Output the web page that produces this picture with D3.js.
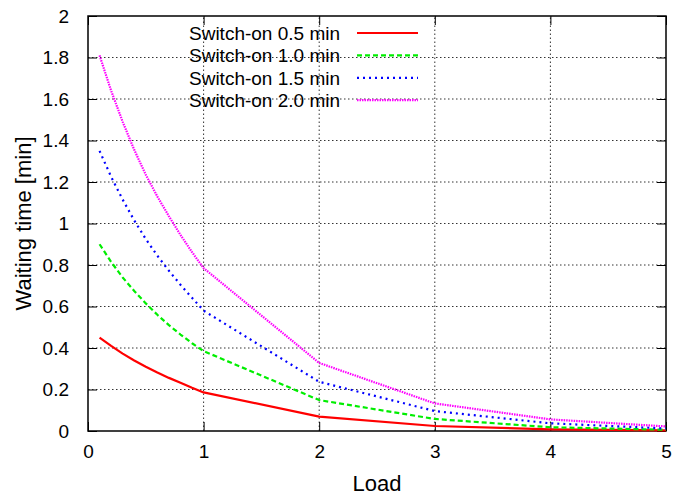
<!DOCTYPE html>
<html>
<head>
<meta charset="utf-8">
<script src="https://cdn.jsdelivr.net/npm/d3@7"></script>
<style>
  html, body { margin: 0; padding: 0; background: #fff; }
  svg { display: block; font-family: "Liberation Sans", Arial, Helvetica, sans-serif; }
</style>
</head>
<body>
<svg id="chart" width="674" height="495"></svg>
<script>
// Load values (x) at which waiting times were computed
const loads = [0.1, 0.2, 0.3, 0.4, 0.5, 0.6, 0.7, 0.8, 0.9, 1.0, 2, 3, 4, 5];

// Mean waiting time [min] for each switch-on duration
const wait05 = [0.45, 0.41, 0.373, 0.34, 0.31, 0.282, 0.256, 0.232, 0.208, 0.186, 0.069, 0.024, 0.008, 0.003];
const wait10 = [0.90, 0.815, 0.74, 0.675, 0.615, 0.56, 0.51, 0.465, 0.423, 0.385, 0.149, 0.058, 0.018, 0.006];
const wait15 = [1.35, 1.225, 1.115, 1.015, 0.925, 0.845, 0.772, 0.705, 0.642, 0.58, 0.237, 0.096, 0.037, 0.012];
const wait20 = [1.81, 1.64, 1.49, 1.355, 1.235, 1.13, 1.035, 0.945, 0.862, 0.785, 0.328, 0.133, 0.056, 0.022];

const seriesNames = ["Switch-on 0.5 min", "Switch-on 1.0 min", "Switch-on 1.5 min", "Switch-on 2.0 min"];

const xTicks = [0, 1, 2, 3, 4, 5];
const yTicks = [0, 0.2, 0.4, 0.6, 0.8, 1, 1.2, 1.4, 1.6, 1.8, 2];

const series = [
  { name: seriesNames[0], values: wait05, color: "#ff0000", width: 2.2, dash: null },
  { name: seriesNames[1], values: wait10, color: "#00ee00", width: 2.2, dash: "5,3" },
  { name: seriesNames[2], values: wait15, color: "#0000ff", width: 2.2, dash: "2,4" },
  { name: seriesNames[3], values: wait20, color: "#ff00ff", width: 2.2, dash: "1.5,1" }
];

const svg = d3.select("#chart");
const margin = { left: 88, right: 8, top: 16, bottom: 64 };
const W = 674, H = 495;
const x = d3.scaleLinear().domain([0, 5]).range([margin.left, W - margin.right]);
const y = d3.scaleLinear().domain([0, 2]).range([H - margin.bottom, margin.top]);

// Grid lines
const grid = svg.append("g");
grid.selectAll("line.gx").data(xTicks.slice(1, -1)).join("line")
  .attr("x1", d => x(d)).attr("x2", d => x(d))
  .attr("y1", y(0)).attr("y2", y(2))
  .attr("stroke", "#333").attr("stroke-width", 1).attr("stroke-dasharray", "1.5,2.5");
grid.selectAll("line.gy").data(yTicks.slice(1, -1)).join("line")
  .attr("x1", x(0)).attr("x2", x(5))
  .attr("y1", d => y(d)).attr("y2", d => y(d))
  .attr("stroke", "#333").attr("stroke-width", 1).attr("stroke-dasharray", "1.5,2.5");

// Axes with inward ticks, mirrored on the opposite sides
const tickLen = 9;
const axisB = svg.append("g").attr("transform", `translate(0,${y(0)})`)
  .call(d3.axisBottom(x).tickValues(xTicks).tickFormat(d3.format("d")).tickSizeInner(-tickLen).tickSizeOuter(0).tickPadding(14));
const axisT = svg.append("g").attr("transform", `translate(0,${y(2)})`)
  .call(d3.axisTop(x).tickValues(xTicks).tickFormat("").tickSizeInner(-tickLen).tickSizeOuter(0));
const axisL = svg.append("g").attr("transform", `translate(${x(0)},0)`)
  .call(d3.axisLeft(y).tickValues(yTicks).tickFormat(d => d3.format("")(+d.toFixed(1))).tickSizeInner(-tickLen).tickSizeOuter(0).tickPadding(19));
const axisR = svg.append("g").attr("transform", `translate(${x(5)},0)`)
  .call(d3.axisRight(y).tickValues(yTicks).tickFormat("").tickSizeInner(-tickLen).tickSizeOuter(0));

[axisB, axisT, axisL, axisR].forEach(a => {
  a.select(".domain").remove();
  a.selectAll(".tick line").attr("stroke", "#000").attr("stroke-width", 1);
  a.selectAll("text").attr("fill", "#000").style("font-size", "19px")
    .style("font-family", "'Liberation Sans', Arial, sans-serif");
});

// Frame
svg.append("rect")
  .attr("x", x(0)).attr("y", y(2))
  .attr("width", x(5) - x(0)).attr("height", y(0) - y(2))
  .attr("fill", "none").attr("stroke", "#000").attr("stroke-width", 1.5);

// Curves
const line = d3.line().x((d, i) => x(loads[i])).y(d => y(d));
svg.append("g").selectAll("path").data(series).join("path")
  .attr("d", d => line(d.values))
  .attr("fill", "none")
  .attr("stroke", d => d.color)
  .attr("stroke-width", d => d.width)
  .attr("stroke-dasharray", d => d.dash)
  .attr("stroke-linejoin", "round");

// Legend
const legend = svg.append("g");
const rowY = i => 33 + i * 22.4;
legend.selectAll("text").data(series).join("text")
  .attr("x", 340).attr("y", (d, i) => rowY(i) + 7)
  .attr("text-anchor", "end")
  .style("font-size", "19px")
  .attr("fill", "#000")
  .text(d => d.name);
legend.selectAll("line").data(series).join("line")
  .attr("x1", 357).attr("x2", 418)
  .attr("y1", (d, i) => rowY(i)).attr("y2", (d, i) => rowY(i))
  .attr("stroke", d => d.color)
  .attr("stroke-width", d => d.width)
  .attr("stroke-dasharray", d => d.dash);

// Axis titles
svg.append("text")
  .attr("x", (x(0) + x(5)) / 2).attr("y", 491)
  .attr("text-anchor", "middle")
  .style("font-size", "22px")
  .text("Load");
svg.append("text")
  .attr("transform", `translate(31,${(y(0) + y(2)) / 2}) rotate(-90)`)
  .attr("text-anchor", "middle")
  .style("font-size", "22px")
  .text("Waiting time [min]");
</script>
</body>
</html>
